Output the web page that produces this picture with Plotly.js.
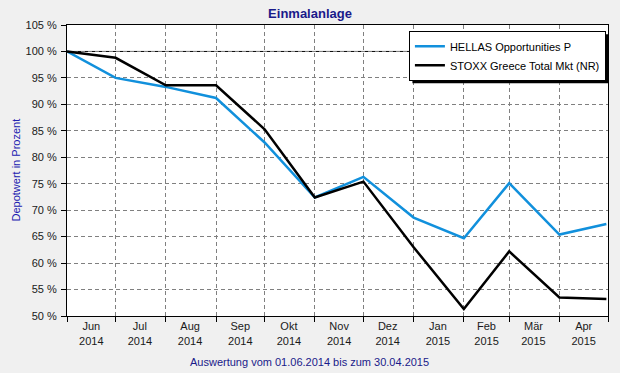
<!DOCTYPE html>
<html>
<head>
<meta charset="utf-8">
<script src="https://cdn.plot.ly/plotly-3.0.1.min.js"></script>
<style>html,body{margin:0;padding:0;background:#f0f0f0;}#chart{width:620px;height:373px;}</style>
</head>
<body>
<div id="chart"></div>
<script>
// Data
const dates = ['2014-06-01','2014-07-01','2014-08-01','2014-09-01','2014-10-01','2014-11-01','2014-12-01','2015-01-01','2015-02-01','2015-03-01','2015-04-01','2015-04-30'];
const hellas = [100, 95.0, 93.3, 91.2, 82.8, 72.4, 76.3, 68.6, 64.7, 75.1, 65.4, 67.4];
const stoxx  = [100, 98.8, 93.6, 93.6, 85.3, 72.4, 75.4, 63.0, 51.3, 62.2, 53.5, 53.2];
const seriesNames = ['HELLAS Opportunities P', 'STOXX Greece Total Mkt (NR)'];
const monthStarts = ['2014-06-01','2014-07-01','2014-08-01','2014-09-01','2014-10-01','2014-11-01','2014-12-01','2015-01-01','2015-02-01','2015-03-01','2015-04-01','2015-05-01'];
const labelDates = ['2014-06-16','2014-07-16','2014-08-16','2014-09-16','2014-10-16','2014-11-16','2014-12-16','2015-01-16','2015-02-15','2015-03-16','2015-04-16'];
const tickLabels = ['Jun<br>2014','Jul<br>2014','Aug<br>2014','Sep<br>2014','Okt<br>2014','Nov<br>2014','Dez<br>2014','Jan<br>2015','Feb<br>2015','Mär<br>2015','Apr<br>2015'];
const baseline = 100;
const chartTitle = 'Einmalanlage';
const yTitle = 'Depotwert in Prozent';
const caption = 'Auswertung vom 01.06.2014 bis zum 30.04.2015';

const FAM = 'Liberation Sans, Arial, sans-serif';
const font = {family: FAM, size: 11, color: '#1a1a1a'};

const traces = [
  {x: dates, y: hellas, name: seriesNames[0], mode: 'lines', line: {color: '#1190dc', width: 2.5}},
  {x: dates, y: stoxx, name: seriesNames[1], mode: 'lines', line: {color: '#000000', width: 2.5}}
];

const layout = {
  width: 620, height: 373,
  paper_bgcolor: '#f0f0f0', plot_bgcolor: '#ffffff',
  margin: {l: 67, r: 12, t: 25, b: 57},
  font: font,
  showlegend: true,
  title: {text: '<b>' + chartTitle + '</b>', x: 0.5, xanchor: 'center', y: 0.965, yanchor: 'middle',
          font: {family: FAM, size: 13, color: '#1a1a8a'}},
  xaxis: {
    type: 'date', range: ['2014-06-01', '2015-05-01'],
    tickmode: 'array', tickvals: labelDates, ticktext: tickLabels,
    ticks: '', showgrid: false, zeroline: false,
    showline: true, linecolor: '#000', linewidth: 1, mirror: true,
    tickfont: font,
    minor: {tickmode: 'array', tickvals: monthStarts, ticks: 'outside', ticklen: 5, tickcolor: '#000',
            showgrid: true, gridcolor: '#808080', griddash: '4px,3px', gridwidth: 1}
  },
  yaxis: {
    range: [50, 105], tickmode: 'linear', tick0: 50, dtick: 5, ticksuffix: ' %',
    ticks: 'outside', ticklen: 5, tickcolor: '#000', ticklabelstandoff: 2,
    showgrid: true, gridcolor: '#808080', griddash: '4px,3px', gridwidth: 1, zeroline: false,
    showline: true, linecolor: '#000', linewidth: 1, mirror: true,
    tickfont: font
  },
  annotations: [
    {text: yTitle, textangle: -90, xref: 'paper', yref: 'paper', x: -0.0961, y: 0.5,
     xanchor: 'center', yanchor: 'middle', showarrow: false,
     font: {family: FAM, size: 11, color: '#2020b0'}},
    {text: caption, xref: 'paper', yref: 'paper', x: 0.449, y: -0.158,
     xanchor: 'center', yanchor: 'middle', showarrow: false,
     font: {family: FAM, size: 11, color: '#1a1a8a'}}
  ],
  shapes: [
    {type: 'line', xref: 'paper', x0: 0, x1: 1, yref: 'y', y0: baseline, y1: baseline,
     line: {color: '#000', width: 1}, layer: 'below'}
  ],
  legend: {
    x: 0.632, xanchor: 'left', y: 0.98, yanchor: 'top',
    bgcolor: '#ffffff', bordercolor: '#000', borderwidth: 1,
    font: {family: FAM, size: 11, color: '#000'},
    itemwidth: 30, tracegroupgap: 0
  }
};

Plotly.newPlot('chart', traces, layout, {displayModeBar: false, staticPlot: true}).then(function (gd) {
  // shadow behind the legend, positioned from the legend's rendered box
  const bg = gd.querySelector('.legend .bg');
  const lg = gd.querySelector('.legend');
  if (!bg || !lg) return;
  const r = bg.getBoundingClientRect();
  const c = gd.getBoundingClientRect();
  const fs = gd._fullLayout._size;
  const px2x = v => (v - c.left - fs.l) / fs.w;
  const px2y = v => 1 - (v - c.top - fs.t) / fs.h;
  const off = 3;
  Plotly.relayout(gd, {shapes: layout.shapes.concat([
    {type: 'rect', xref: 'paper', yref: 'paper', layer: 'above',
     x0: px2x(r.left + off), x1: px2x(r.right + off), y0: px2y(r.bottom + off), y1: px2y(r.top + off),
     fillcolor: '#000', line: {width: 0}}
  ])});
});
</script>
</body>
</html>
